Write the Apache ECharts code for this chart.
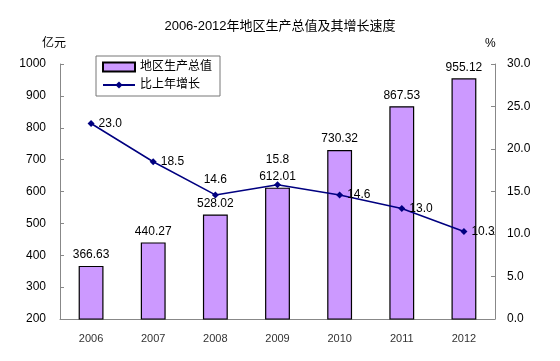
<!DOCTYPE html>
<html><head><meta charset="utf-8">
<script src="https://cdn.jsdelivr.net/npm/echarts@6/dist/echarts.min.js"></script>
<style>html,body{margin:0;padding:0;background:#fff}#c{width:560px;height:361px}</style>
</head><body><div id="c"></div>
<script>
var categories = ['2006','2007','2008','2009','2010','2011','2012'];
var gdpValues = [366.63, 440.27, 528.02, 612.01, 730.32, 867.53, 955.12];
var growthValues = [23.0, 18.5, 14.6, 15.8, 14.6, 13.0, 10.3];
var leftTicks = [200, 1000, 100];
var rightTicks = [0, 30, 5];
var growthLabelPos = ['right','right','top','top','right','right','right'];
var growthLabelDist = [4, 4, 6, 16, 4, 4, 4];

var chart = echarts.init(document.getElementById('c'));
var font = 'Arial, "Liberation Sans", "Noto Sans CJK SC", sans-serif';
chart.setOption({
  animation: false,
  textStyle: {fontFamily: font},
  title: {text: '2006-2012年地区生产总值及其增长速度', left: 'center', top: 15,
    textStyle: {fontSize: 13, fontWeight: 'normal', color: '#000', fontFamily: font}},
  legend: {
    left: 96, top: 56, orient: 'vertical', itemGap: 6, itemWidth: 32, itemHeight: 9,
    padding: [5, 8, 5, 6], borderColor: '#777', borderWidth: 1,
    textStyle: {fontSize: 12, color: '#000'},
    data: [{name: '地区生产总值', icon: 'rect'}, {name: '比上年增长'}]
  },
  grid: {left: 60, right: 65, top: 64, bottom: 42},
  xAxis: {type: 'category', data: categories,
    axisLine: {lineStyle: {color: '#888'}},
    axisTick: {inside: true, length: 4, lineStyle: {color: '#888'}},
    axisLabel: {color: '#333', fontSize: 11, margin: 14}},
  yAxis: [
    {type: 'value', min: leftTicks[0], max: leftTicks[1], interval: leftTicks[2],
      name: '亿元', nameLocation: 'end', nameGap: 14, nameTextStyle: {color: '#000', fontSize: 12, align: 'left', padding: [0,0,0,-18]},
      axisLine: {show: true, lineStyle: {color: '#888'}},
      axisTick: {show: true, inside: true, length: 4, lineStyle: {color: '#888'}},
      splitLine: {show: false},
      axisLabel: {color: '#000', fontSize: 12, margin: 14, formatter: function(v){return String(v);}}},
    {type: 'value', min: rightTicks[0], max: rightTicks[1], interval: rightTicks[2],
      name: '%', nameLocation: 'end', nameGap: 14, nameTextStyle: {color: '#000', fontSize: 12, align: 'left', padding: [0,0,0,-10]},
      axisLine: {show: true, lineStyle: {color: '#888'}},
      axisTick: {show: true, inside: true, length: 4, lineStyle: {color: '#888'}},
      splitLine: {show: false},
      axisLabel: {color: '#000', fontSize: 12, margin: 12, formatter: function(v){return v.toFixed(1);}}}
  ],
  series: [
    {name: '地区生产总值', type: 'bar', data: gdpValues, barWidth: '40%',
      itemStyle: {color: '#CC99FF', borderColor: '#000', borderWidth: 1.2},
      label: {show: true, position: 'top', color: '#000', fontSize: 12, distance: 5,
        formatter: function(p){return p.value.toFixed(2);}}},
    {name: '比上年增长', type: 'line', yAxisIndex: 1,
      data: growthValues.map(function(v, i){
        return {value: v, label: {position: growthLabelPos[i], distance: growthLabelDist[i]}};
      }),
      symbol: 'diamond', symbolSize: 7,
      lineStyle: {color: '#000080', width: 1.5},
      itemStyle: {color: '#000080'},
      label: {show: true, color: '#000', fontSize: 12, distance: 4,
        formatter: function(p){return p.value.toFixed(1);}}}
  ]
});
</script></body></html>
